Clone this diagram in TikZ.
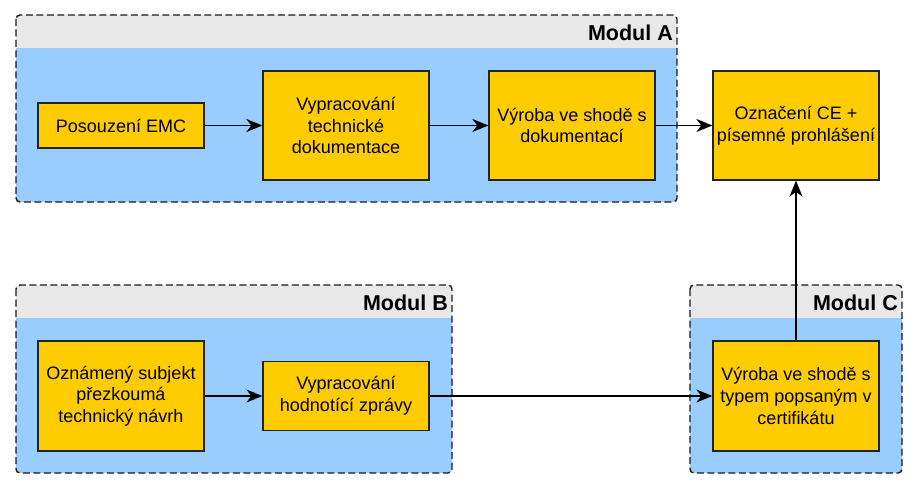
\documentclass[tikz,border=0pt]{standalone}
\usepackage{fontspec}
\setmainfont{Liberation Sans}
\usetikzlibrary{arrows.meta}
\definecolor{boxfill}{HTML}{FFCC00}
\definecolor{lanefill}{HTML}{99CCFF}
\definecolor{headfill}{HTML}{E8E8E8}
\definecolor{boxline}{HTML}{222222}
\newcommand\mymodul[6]{%
  \begin{scope}
    \clip[rounded corners=4pt] (#1,#2) rectangle (#3,#4);
    \fill[lanefill] (#1,#2) rectangle (#3,#4);
    \fill[headfill] (#1,#2) rectangle (#3,#2+33);
  \end{scope}
  \draw[modborder] (#1,#2) rectangle (#3,#4);
  \node[modtitle] (#6) at (#3-4,#2+25.5) {#5};
}
\begin{document}
\begin{tikzpicture}[x=1pt,y=-1pt,
  stepbox/.style={draw=boxline, line width=1.3pt, fill=boxfill, align=center,
    font=\fontsize{18}{21.7}\selectfont, inner sep=0pt, minimum width=166pt},
  modborder/.style={draw=black!90, line width=1.4pt, dash pattern=on 7pt off 3.5pt, rounded corners=4pt},
  modtitle/.style={anchor=base east, font=\fontsize{21.5}{25}\selectfont\bfseries, inner sep=0pt},
  conn/.style={line width=1.5pt, -{Stealth[length=16pt,width=13pt,inset=5pt]}}]
\useasboundingbox (0,0) rectangle (918,489);

\mymodul{16}{15}{677}{202}{Modul A}{titleA}
\mymodul{16}{285}{452}{473}{Modul B}{titleB}
\mymodul{690}{285}{902}{473}{Modul C}{titleC}

\node[stepbox, minimum height=45pt] (p1) at (121,125.5) {Posouzení EMC};
\node[stepbox, minimum height=109pt] (p2) at (346,125.5) {Vypracování\\technické\\dokumentace};
\node[stepbox, minimum height=109pt] (p3) at (572,125.5) {Výroba ve shodě s\\dokumentací};
\node[stepbox, minimum height=109pt] (p4) at (796,125.5) {Označení CE +\\písemné prohlášení};

\node[stepbox, minimum height=110pt] (b1) at (121,396) {Oznámený subjekt\\přezkoumá\\technický návrh};
\node[stepbox, minimum height=69pt] (b2) at (346,396) {Vypracování\\hodnotící zprávy};
\node[stepbox, minimum height=110pt] (c1) at (796,396) {Výroba ve shodě s\\typem popsaným v\\certifikátu};

\draw[conn] (p1) -- (p2);
\draw[conn] (p2) -- (p3);
\draw[conn] (p3) -- (p4);
\draw[conn] (b1) -- (b2);
\draw[conn] (b2) -- (c1);
\draw[conn] (c1) -- (p4);
\end{tikzpicture}
\end{document}
